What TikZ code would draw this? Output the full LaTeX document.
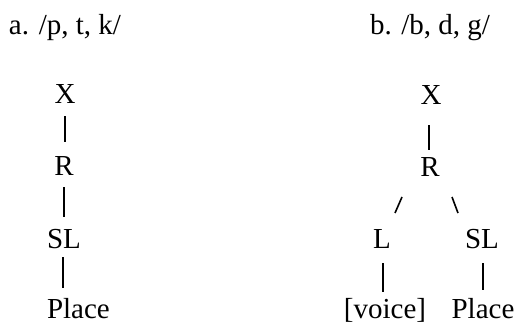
\documentclass[tikz,border=0pt]{standalone}
\usepackage{fontspec}
\setmainfont{Liberation Serif}
\begin{document}
\begin{tikzpicture}[x=1pt,y=-1pt,
  lbl/.style={inner sep=0pt,outer sep=0pt,anchor=base,font=\fontsize{29}{34}\selectfont},
  bar/.style={line width=1.8pt}]
\useasboundingbox (0,0) rectangle (519,329);
% titles
\node[lbl,anchor=base west] (ta) at (9,35) {a. /p, t, k/};
\node[lbl,anchor=base west] (tb) at (370,35) {b. /b, d, g/};
% left tree
\node[lbl] (aX) at (65,103) {X};
\node[lbl] (aR) at (64,175) {R};
\node[lbl] (aSL) at (64,248) {SL};
\node[lbl,anchor=base west] (aP) at (47,318) {Place};
\draw[bar,shorten <=13pt,shorten >=14pt] (aX.south) -- (aX.south |- aR.north);
\draw[bar,shorten <=12pt,shorten >=12pt] (aR.south) -- (aR.south |- aSL.north);
\draw[bar,shorten <=9pt,shorten >=10pt] ([xshift=-1pt]aSL.south) -- ([xshift=-1pt]aSL.south |- aP.north);
% right tree
\node[lbl] (bX) at (431,104) {X};
\node[lbl] (bR) at (430,176) {R};
\node[lbl] (bL) at (382,248) {L};
\node[lbl] (bSL) at (482,248) {SL};
\node[lbl] (bV) at (385,318) {[voice]};
\node[lbl] (bP) at (483,318) {Place};
\draw[bar,shorten <=21pt,shorten >=7pt] ([xshift=-2pt]bX.south) -- ([xshift=-2pt]bX.south |- bR.north);
\draw[bar,line width=1.6pt] ([shift={(-28,21)}]bR.base) -- ([shift={(-35,37)}]bR.base);
\draw[bar,line width=1.6pt] ([shift={(22,21)}]bR.base) -- ([shift={(28,37)}]bR.base);
\draw[bar,shorten <=15pt,shorten >=6pt] ([xshift=1pt]bL.south) -- ([xshift=1pt]bL.south |- bV.north);
\draw[bar,shorten <=15pt,shorten >=8pt] ([xshift=1pt]bSL.south) -- ([xshift=1pt]bSL.south |- bP.north);
\end{tikzpicture}
\end{document}
